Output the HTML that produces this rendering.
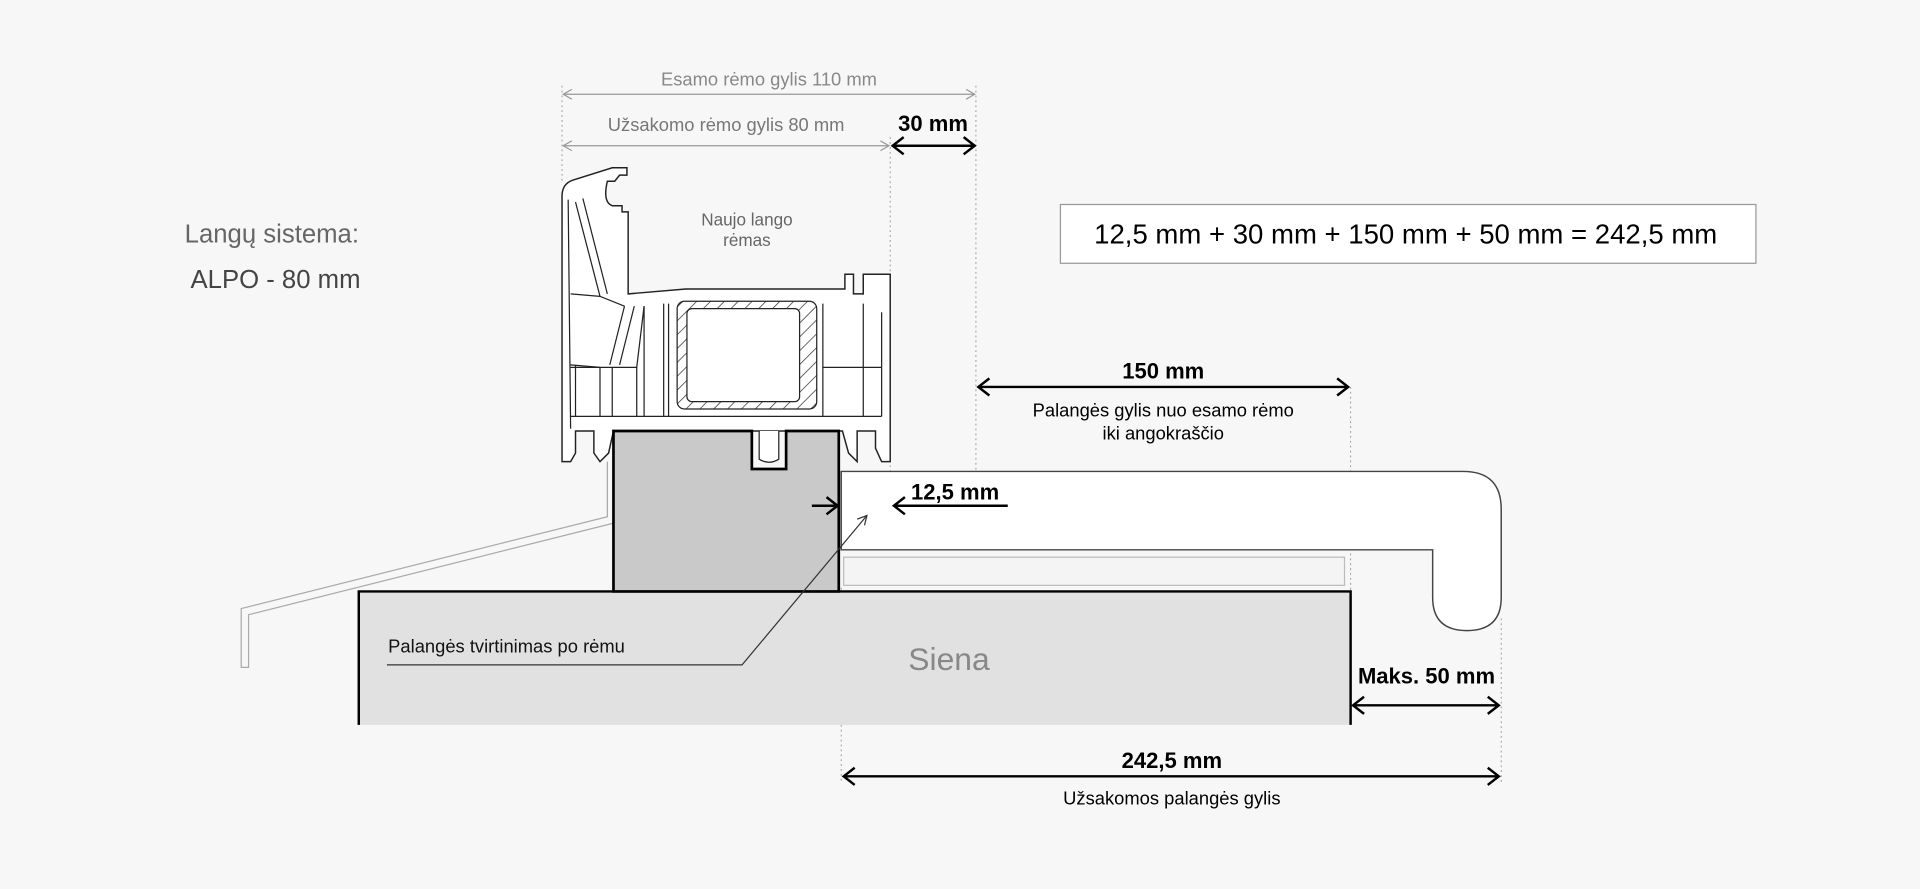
<!DOCTYPE html>
<html><head><meta charset="utf-8"><style>
html,body{margin:0;padding:0;background:#f7f7f7}
svg{display:block}
text{font-family:"Liberation Sans",sans-serif}
</style></head><body>
<svg width="1920" height="889" viewBox="0 0 1568 726" xmlns="http://www.w3.org/2000/svg">
<defs>
<marker id="ag" markerWidth="10" markerHeight="10" refX="9" refY="5" orient="auto-start-reverse" markerUnits="userSpaceOnUse"><path d="M2,1 L9,5 L2,9" fill="none" stroke="#999" stroke-width="1"/></marker>
<marker id="ab" markerWidth="14" markerHeight="16" refX="12" refY="8" orient="auto-start-reverse" markerUnits="userSpaceOnUse"><path d="M3,1 L12,8 L3,15" fill="none" stroke="#000" stroke-width="2"/></marker>
<pattern id="hat" width="8" height="8" patternUnits="userSpaceOnUse" patternTransform="rotate(45)"><rect width="8" height="8" fill="#fff"/><line x1="0" y1="0" x2="0" y2="8" stroke="#333" stroke-width="1.2"/></pattern>
</defs>
<rect width="1568" height="726" fill="#f7f7f7"/>

<g stroke="#999" stroke-width="0.8" stroke-dasharray="1.5,2.5" fill="none">
<line x1="459" y1="70" x2="459" y2="150"/>
<line x1="797" y1="70" x2="797" y2="385"/>
<line x1="727" y1="112" x2="727" y2="450"/>
<line x1="687" y1="480" x2="687" y2="640"/>
<line x1="1226" y1="505" x2="1226" y2="640"/>
<line x1="1103" y1="316" x2="1103" y2="483"/>
</g>

<text x="628" y="70" font-size="15" fill="#888" text-anchor="middle">Esamo rėmo gylis 110 mm</text>
<line x1="460" y1="77" x2="796" y2="77" stroke="#999" marker-start="url(#ag)" marker-end="url(#ag)"/>
<text x="593" y="107" font-size="15" fill="#777" text-anchor="middle">Užsakomo rėmo gylis 80 mm</text>
<line x1="460" y1="119" x2="726" y2="119" stroke="#999" marker-start="url(#ag)" marker-end="url(#ag)"/>
<text x="762" y="107" font-size="18" font-weight="bold" text-anchor="middle">30 mm</text>
<line x1="729" y1="119" x2="796" y2="119" stroke="#000" stroke-width="2" marker-start="url(#ab)" marker-end="url(#ab)"/>

<text x="222" y="198" font-size="21" fill="#666" text-anchor="middle">Langų sistema:</text>
<text x="225" y="235" font-size="21" fill="#444" text-anchor="middle">ALPO - 80 mm</text>

<rect x="866" y="167" width="568" height="48" fill="#fff" stroke="#999"/>
<text x="1148" y="199" font-size="22.5" text-anchor="middle">12,5 mm + 30 mm + 150 mm + 50 mm = 242,5 mm</text>

<g fill="#fff" stroke="#222" stroke-width="1.2">
<path d="M459,160 Q459,150 468,147 L500,137 L512,137 L512,143 L506,143 L502,148 L496,148 Q492,165 500,168 L508,168 L508,173 L513,173 L513,240 L560,236 L690,236 L690,224 L697,224 L697,240 L705,240 L705,224 L727,224 L727,377 L720,377 L715,366 L715,352 L700,352 L700,377 L693,370 L688,352 L501,352 L497,370 L490,377 L485,370 L485,352 L470,352 L470,370 L466,377 L459,377 Z"/>
</g>
<g fill="none" stroke="#222" stroke-width="1">
<path d="M464,163 L466,350 M470,165 L490,242 M476,162 L496,240 M466,240 L490,242 L510,250 M466,298 L490,300 M466,340 L720,340"/>
<path d="M510,250 L498,298 M518,250 L506,298 M466,300 L520,300 L526,250"/>
<path d="M470,298 L470,340 M490,300 L490,340 M500,300 L500,340 M520,300 L520,340 M526,250 L526,340 M542,248 L542,340 M546,248 L546,340"/>
<path d="M672,248 L672,340 M705,248 L705,340 M720,255 L720,340 M672,300 L720,300"/>
</g>
<rect x="553" y="246" width="114" height="88" rx="6" fill="url(#hat)" stroke="#222"/>
<rect x="561" y="252" width="92" height="76" rx="4" fill="#fff" stroke="#222"/>
<text x="610" y="184" font-size="14" fill="#666" text-anchor="middle">Naujo lango</text>
<text x="610" y="201" font-size="14" fill="#666" text-anchor="middle">rėmas</text>

<path d="M496,377 L496,422 L197,497 L197,545 L203,545 L203,502 L502,427 L502,377" fill="none" stroke="#aaa" stroke-width="1"/>

<path d="M293,592 L293,483 L1103,483 L1103,592" fill="#e1e1e1" stroke="#000" stroke-width="2"/>
<text x="775" y="547" font-size="26" fill="#888" text-anchor="middle">Siena</text>

<path d="M501,483 L501,352 L614,352 L614,383 L642,383 L642,352 L685,352 L685,483 Z" fill="#c9c9c9" stroke="#000" stroke-width="2.2"/>
<path d="M620,352 L620,375 Q628,380 636,375 L636,352" fill="#fff" stroke="#222"/>

<path d="M687,385 L1195,385 Q1226,385 1226,416 L1226,488 Q1226,515 1198,515 Q1170,515 1170,488 L1170,449 L687,449 Z" fill="#fff" stroke="#444" stroke-width="1.2"/>
<rect x="689" y="455" width="409" height="23" fill="#f4f4f4" stroke="#bbb"/>

<line x1="663" y1="413" x2="684" y2="413" stroke="#000" stroke-width="2" marker-end="url(#ab)"/>
<line x1="823" y1="413" x2="730" y2="413" stroke="#000" stroke-width="2" marker-end="url(#ab)"/>
<text x="780" y="408" font-size="18" font-weight="bold" text-anchor="middle">12,5 mm</text>

<path d="M316,543 L606,543 L708,421" fill="none" stroke="#333" stroke-width="1"/>
<path d="M700,424 L708,421 L706,429" fill="none" stroke="#333" stroke-width="1"/>
<text x="317" y="533" font-size="15" fill="#111">Palangės tvirtinimas po rėmu</text>

<text x="950" y="309" font-size="18" font-weight="bold" text-anchor="middle">150 mm</text>
<line x1="799" y1="316" x2="1101" y2="316" stroke="#000" stroke-width="2" marker-start="url(#ab)" marker-end="url(#ab)"/>
<text x="950" y="340" font-size="15" text-anchor="middle">Palangės gylis nuo esamo rėmo</text>
<text x="950" y="359" font-size="15" text-anchor="middle">iki angokraščio</text>

<text x="1165" y="558" font-size="18" font-weight="bold" text-anchor="middle">Maks. 50 mm</text>
<line x1="1105" y1="576" x2="1224" y2="576" stroke="#000" stroke-width="2" marker-start="url(#ab)" marker-end="url(#ab)"/>

<text x="957" y="627" font-size="18" font-weight="bold" text-anchor="middle">242,5 mm</text>
<line x1="689" y1="634" x2="1224" y2="634" stroke="#000" stroke-width="2" marker-start="url(#ab)" marker-end="url(#ab)"/>
<text x="957" y="657" font-size="15" text-anchor="middle">Užsakomos palangės gylis</text>
</svg>
</body></html>
